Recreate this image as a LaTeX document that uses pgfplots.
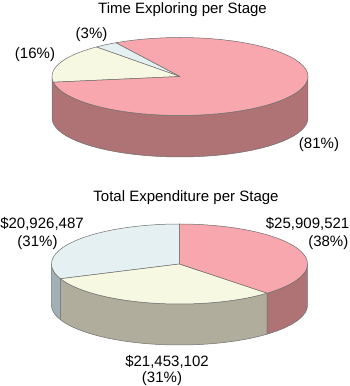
\documentclass[border=0pt]{standalone}
\usepackage{pgfplots}
\pgfplotsset{compat=1.18}
\usepgfplotslibrary{fillbetween}
\usepackage{fontspec}
\setmainfont{Liberation Sans}
\definecolor{pinkT}{RGB}{247,167,173}
\definecolor{pinkS}{RGB}{175,115,118}
\definecolor{yellowT}{RGB}{246,248,226}
\definecolor{yellowS}{RGB}{177,173,156}
\definecolor{blueT}{RGB}{229,240,243}
\definecolor{blueS}{RGB}{161,176,180}
\definecolor{edgec}{RGB}{110,110,110}
% data (percent)
\def\TblueP{3}\def\TyellowP{16}\def\TpinkP{81}
\def\BblueP{31}\def\ByellowP{31}\def\BpinkP{38}
\newcommand{\slicetop}[6]{% cx, cy, b, t1, t2, colour
  \addplot[fill=#6, draw=edgec, line width=0.5bp, line join=round, domain=#4:#5, samples=60]
    ({#1+128*cos(x)},{#2+#3*sin(x)}) -- (axis cs:#1,#2) -- cycle;
}
\newcommand{\sideface}[8]{% cx, cy, b, depth, s1, s2, colour, name
  \addplot[draw=none, name path=#8T, domain=#5:#6, samples=40] ({#1+128*cos(x)},{#2+#3*sin(x)});
  \addplot[draw=none, name path=#8B, domain=#5:#6, samples=40] ({#1+128*cos(x)},{#2-#4+#3*sin(x)});
  \addplot[fill=#7, draw=edgec, line width=0.5bp, line join=round] fill between[of=#8T and #8B, on layer=main];
}
\begin{document}
\begin{tikzpicture}
\pgfmathsetmacro{\tA}{120}
\pgfmathsetmacro{\tB}{\tA+3.6*\TblueP}
\pgfmathsetmacro{\tC}{\tB+3.6*\TyellowP}
\pgfmathsetmacro{\tD}{\tC+3.6*\TpinkP}
\pgfmathsetmacro{\bA}{90}
\pgfmathsetmacro{\bB}{\bA+3.6*\BblueP}
\pgfmathsetmacro{\bC}{\bB+3.6*\ByellowP}
\pgfmathsetmacro{\bD}{\bC+3.6*\BpinkP}
\begin{axis}[
  width=350bp, height=386bp, scale only axis,
  xmin=0, xmax=350, ymin=0, ymax=386,
  hide axis, clip=false,
  font=\fontsize{15bp}{18bp}\selectfont,
]
\addplot[draw=none] coordinates {(0,0) (350,386)};
% ---- top pie: side face (front)
\sideface{180}{309.5}{39}{41.5}{180}{360}{pinkS}{ta}
% ---- top pie: top faces
\slicetop{180}{309.5}{39}{\tA}{\tB}{blueT}
\slicetop{180}{309.5}{39}{\tB}{\tC}{yellowT}
\slicetop{180}{309.5}{39}{\tC}{\tD}{pinkT}
% ---- bottom pie: side faces
\sideface{179.5}{122}{40}{41}{180}{\bB}{blueS}{ba}
\sideface{179.5}{122}{40}{41}{\bB}{\bC}{yellowS}{bb}
\sideface{179.5}{122}{40}{41}{\bC}{360}{pinkS}{bc}
% ---- bottom pie: top faces
\slicetop{179.5}{122}{40}{\bA}{\bB}{blueT}
\slicetop{179.5}{122}{40}{\bB}{\bC}{yellowT}
\slicetop{179.5}{122}{40}{\bC}{\bD}{pinkT}
% ---- labels
\node[anchor=base, inner sep=0pt] at (axis cs:182.5,372) {Time Exploring per Stage};
\node[anchor=base, inner sep=0pt] at (axis cs:91.5,347) {(3\%)};
\node[anchor=base, inner sep=0pt] at (axis cs:35,327) {(16\%)};
\node[anchor=base, inner sep=0pt] at (axis cs:319,237) {(81\%)};
\node[anchor=base, inner sep=0pt] at (axis cs:186,184.5) {Total Expenditure per Stage};
\node[anchor=base east, inner sep=0pt] at (axis cs:349.5,157) {\$25,909,521};
\node[anchor=base east, inner sep=0pt] at (axis cs:348.5,139) {(38\%)};
\node[anchor=base, inner sep=0pt] at (axis cs:42,157) {\$20,926,487};
\node[anchor=base, inner sep=0pt] at (axis cs:37.5,139) {(31\%)};
\node[anchor=base, inner sep=0pt] at (axis cs:167,20) {\$21,453,102};
\node[anchor=base, inner sep=0pt] at (axis cs:162,4) {(31\%)};
\end{axis}
\end{tikzpicture}
\end{document}
